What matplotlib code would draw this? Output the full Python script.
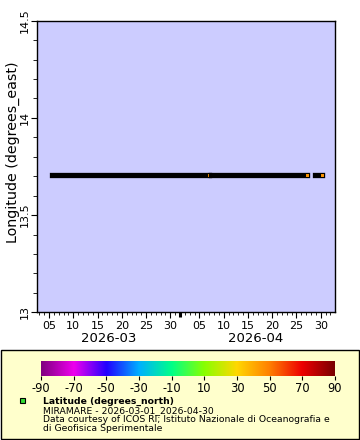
import matplotlib
matplotlib.use("Agg")
import matplotlib.pyplot as plt
import matplotlib.dates as mdates
import matplotlib.transforms as mtransforms
from matplotlib.colors import LinearSegmentedColormap, Normalize
from matplotlib.patches import Rectangle
import numpy as np
import pandas as pd

# ---- data ----
run_start = ["2026-03-05 12:30", "2026-04-07 09:00", "2026-04-28 17:20"]
run_end = ["2026-04-06 21:00", "2026-04-27 04:00", "2026-04-30 06:30"]
longitude = [13.706, 13.706, 13.706]
latitude = [45.70, 45.70, 45.70]

cbar_ticks = [-90, -70, -50, -30, -10, 10, 30, 50, 70, 90]
cmap_colors = ["#800080", "#ee00ee", "#2200ff", "#00b0ff", "#00ff88",
               "#88ff00", "#ffd800", "#ff8000", "#ee0000", "#7a0000"]
xlim = ["2026-03-02 14:00", "2026-05-02 22:30"]
ylim = [13.0, 14.5]
month_labels = ["2026-03", "2026-04"]
month_centers = ["2026-03-17 07:00", "2026-04-16 12:00"]

legend_title = "Latitude (degrees_north)"
legend_lines = ["MIRAMARE - 2026-03-01_2026-04-30",
                "Data courtesy of ICOS RI; Istituto Nazionale di Oceanografia e",
                "di Geofisica Sperimentale"]

plt.rcParams['font.family'] = ['DejaVu Sans']

W, H = 360, 440
fig = plt.figure(figsize=(W / 100, H / 100), dpi=100)

cmap = LinearSegmentedColormap.from_list("lat", cmap_colors)
norm = Normalize(-90, 90)

def fx(px):
    return px / W

def fy(py):
    return 1 - py / H

# legend box (behind everything)
fig.patches.append(Rectangle((fx(0.5), fy(438.5)), fx(358.5), fy(349.5) - fy(438.5),
                             transform=fig.transFigure, facecolor="#ffffcc",
                             edgecolor="black", lw=1.0, zorder=-5))

ax = fig.add_axes([fx(37.3), fy(312.3), fx(335) - fx(37.3), fy(20.7) - fy(312.3)])
ax.set_facecolor("#ccccff")

for s, e, lo, la in zip(run_start, run_end, longitude, latitude):
    s = pd.Timestamp(s)
    e = pd.Timestamp(e)
    ax.plot([s, e], [lo, lo], color="black", lw=3.8, solid_capstyle="projecting", zorder=3)
    ax.plot([e], [lo], marker="s", ms=3.0, mew=0.75, mec="black",
            mfc=cmap(norm(la)), ls="none", zorder=3)

ax.set_xlim(pd.Timestamp(xlim[0]), pd.Timestamp(xlim[1]))
ax.set_ylim(*ylim)

ax.xaxis.set_major_locator(mdates.DayLocator(bymonthday=[5, 10, 15, 20, 25, 30]))
ax.xaxis.set_major_formatter(mdates.DateFormatter("%d"))
ax.xaxis.set_minor_locator(mdates.DayLocator())
ax.tick_params(axis="x", which="major", length=4, width=0.8, labelsize=8, pad=2)
ax.tick_params(axis="x", which="minor", length=2, width=0.6)

ax.set_yticks([13, 13.5, 14, 14.5])
ax.set_yticklabels(["13", "13.5", "14", "14.5"], rotation=90, va="center")
ax.set_yticks(np.arange(13.1, 14.45, 0.1), minor=True)
ax.tick_params(axis="y", which="major", length=4, width=0.8, labelsize=8, pad=1.5)
ax.tick_params(axis="y", which="minor", length=3, width=0.6)

# month boundary tick
ax.plot([pd.Timestamp("2026-04-01")] * 2, [0, -0.016], transform=ax.get_xaxis_transform(),
        color="black", lw=2.2, clip_on=False, solid_capstyle="butt")

btrans = mtransforms.blended_transform_factory(ax.transData, fig.transFigure)
for lab, c in zip(month_labels, month_centers):
    ax.text(pd.Timestamp(c), fy(338), lab, transform=btrans,
            ha="center", va="center", fontsize=9.5)

fig.text(fx(13), (fy(60) + fy(245)) / 2, "Longitude (degrees_east)", rotation=90,
         ha="center", va="center", fontsize=10.3)

for sp in ax.spines.values():
    sp.set_linewidth(1.0)

cax = fig.add_axes([fx(41), fy(376), fx(335) - fx(41), fy(360.7) - fy(376)])
cax.set_zorder(2)
grad = np.linspace(-90, 90, 512).reshape(1, -1)
cax.imshow(grad, aspect="auto", cmap=cmap, norm=norm, extent=[-90, 90, 0, 1])
cax.set_xlim(-90, 90)
cax.set_xticks(cbar_ticks)
cax.set_xticklabels([str(t) for t in cbar_ticks])
cax.set_yticks([])
cax.tick_params(axis="x", length=3, width=0.8, labelsize=8.3, pad=1.5)
for sp in cax.spines.values():
    sp.set_visible(False)

fig.patches.append(Rectangle((fx(19.5), fy(402.5)), fx(5), fy(397.5) - fy(402.5),
                             transform=fig.transFigure, facecolor="#33dd33",
                             edgecolor="black", lw=0.8, zorder=2))
fig.text(fx(43), fy(404), legend_title, fontsize=6.7, fontweight="bold", va="baseline", ha="left")
for i, line in enumerate(legend_lines):
    fig.text(fx(43), fy(413 + 9 * i), line, fontsize=6.7, va="baseline", ha="left")

fig.savefig("out.png", dpi=100)
